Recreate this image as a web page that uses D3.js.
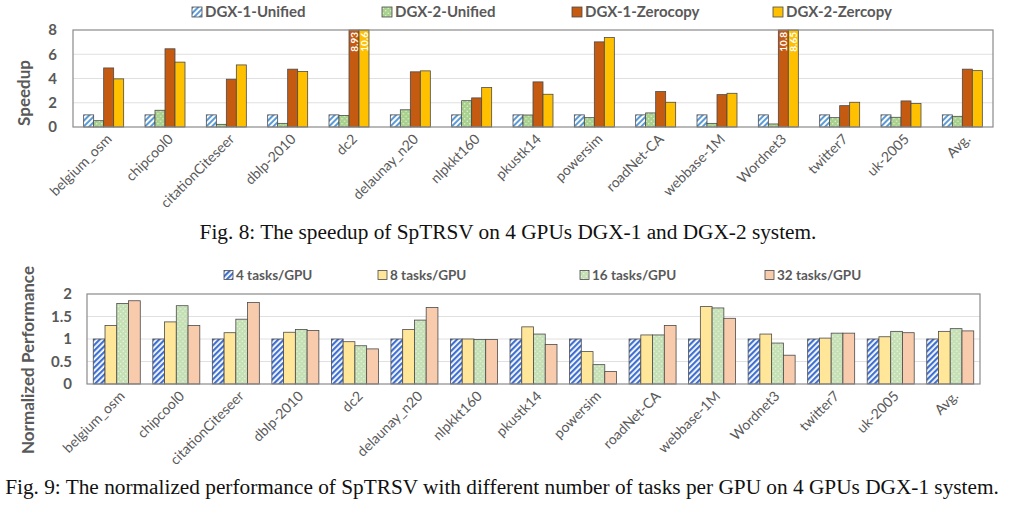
<!DOCTYPE html>
<html>
<head>
<meta charset="utf-8">
<script src="https://cdn.jsdelivr.net/npm/d3@7/dist/d3.min.js"></script>
<style>
  html, body { margin: 0; padding: 0; background: #fff; }
  svg { display: block; }
</style>
</head>
<body>
<svg id="chart" width="1024" height="513"></svg>
<script>
// ---------------- DATA ----------------
const categories = ["belgium_osm", "chipcool0", "citationCiteseer", "dblp-2010", "dc2",
  "delaunay_n20", "nlpkkt160", "pkustk14", "powersim", "roadNet-CA", "webbase-1M",
  "Wordnet3", "twitter7", "uk-2005", "Avg."];

// Fig. 8 (speedup)
const speedupSeries = ["DGX-1-Unified", "DGX-2-Unified", "DGX-1-Zerocopy", "DGX-2-Zercopy"];
const dgx1Unified  = [1, 1, 1, 1, 1, 1, 1, 1, 1, 1, 1, 1, 1, 1, 1];
const dgx2Unified  = [0.52, 1.38, 0.22, 0.3, 0.95, 1.42, 2.17, 0.99, 0.77, 1.16, 0.3, 0.25, 0.77, 0.8, 0.88];
const dgx1Zerocopy = [4.87, 6.45, 3.94, 4.77, 8.93, 4.55, 2.4, 3.72, 7.02, 2.92, 2.67, 10.8, 1.76, 2.15, 4.77];
const dgx2Zercopy  = [3.97, 5.35, 5.12, 4.57, 10.6, 4.63, 3.25, 2.7, 7.38, 2.04, 2.78, 8.65, 2.04, 1.93, 4.65];
const speedupTicks = [0, 2, 4, 6, 8];

// Fig. 9 (normalized performance)
const taskSeries = ["4 tasks/GPU", "8 tasks/GPU", "16 tasks/GPU", "32 tasks/GPU"];
const tasks4  = [1, 1, 1, 1, 1, 1, 1, 1, 1, 1, 1, 1, 1, 1, 1];
const tasks8  = [1.30, 1.38, 1.14, 1.15, 0.94, 1.21, 1.0, 1.27, 0.72, 1.09, 1.72, 1.11, 1.02, 1.05, 1.17];
const tasks16 = [1.79, 1.74, 1.44, 1.21, 0.85, 1.42, 0.99, 1.11, 0.43, 1.09, 1.69, 0.91, 1.13, 1.17, 1.23];
const tasks32 = [1.85, 1.30, 1.81, 1.19, 0.78, 1.70, 0.99, 0.88, 0.28, 1.30, 1.46, 0.64, 1.13, 1.14, 1.18];
const perfTicks = [0, 0.5, 1, 1.5, 2];

const caption8 = "Fig. 8: The speedup of SpTRSV on 4 GPUs DGX-1 and DGX-2 system.";
const caption9 = "Fig. 9: The normalized performance of SpTRSV with different number of tasks per GPU on 4 GPUs DGX-1 system.";

// ---------------- DRAW ----------------
const svg = d3.select("#chart");
const FONT = "Lato, 'Open Sans', sans-serif";
const TXT = "#595959";
const defs = svg.append("defs");

function stripePattern(id, color, bg, size, sw) {
  const p = defs.append("pattern").attr("id", id).attr("patternUnits", "userSpaceOnUse")
    .attr("width", size).attr("height", size).attr("patternTransform", "rotate(45)");
  p.append("rect").attr("width", size).attr("height", size).attr("fill", bg);
  p.append("rect").attr("width", sw).attr("height", size).attr("fill", color);
}
function dotPattern(id, color, dot, size, r) {
  const p = defs.append("pattern").attr("id", id).attr("patternUnits", "userSpaceOnUse")
    .attr("width", size).attr("height", size);
  p.append("rect").attr("width", size).attr("height", size).attr("fill", color);
  p.append("circle").attr("cx", size / 4).attr("cy", size / 4).attr("r", r).attr("fill", dot);
  p.append("circle").attr("cx", 3 * size / 4).attr("cy", 3 * size / 4).attr("r", r).attr("fill", dot);
}
stripePattern("topBlue", "#5B9BD5", "#ffffff", 4, 2);
dotPattern("topGreen", "#A9D18E", "#E8F3DF", 5, 0.7);
stripePattern("botBlue", "#3F6FD0", "#ffffff", 4, 2.2);
dotPattern("botGreen", "#C5E0B4", "#F1F8EC", 5, 0.7);

function drawChart(cfg) {
  const g = svg.append("g");
  const x0 = d3.scaleBand().domain(categories).range([cfg.left, cfg.right]);
  const bw = x0.bandwidth();
  const x1 = d3.scaleBand().domain(cfg.series)
    .range([(bw - cfg.groupW) / 2, (bw + cfg.groupW) / 2]);
  const y = d3.scaleLinear().domain(cfg.domain).range([cfg.bottom, cfg.top]).clamp(true);

  // gridlines
  g.append("g").selectAll("line").data(cfg.ticks.slice(1, -1)).join("line")
    .attr("x1", cfg.left).attr("x2", cfg.right)
    .attr("y1", d => y(d)).attr("y2", d => y(d))
    .attr("stroke", "#e0e0e0").attr("stroke-width", 1);

  // y axis labels
  const yAxis = d3.axisLeft(y).tickValues(cfg.ticks).tickSize(0).tickPadding(cfg.tickPad)
    .tickFormat(d3.format("~g"));
  const ya = g.append("g").attr("transform", `translate(${cfg.left},0)`).call(yAxis);
  ya.select(".domain").remove();
  ya.selectAll("text").attr("font-family", FONT).attr("font-weight", "bold")
    .attr("font-size", cfg.tickSize).attr("fill", TXT);

  // bars
  const groups = g.append("g").selectAll("g").data(categories).join("g")
    .attr("transform", d => `translate(${x0(d)},0)`);
  groups.selectAll("rect").data((d, i) => cfg.series.map((s, k) => ({ s, k, v: cfg.values[k][i] })))
    .join("rect")
    .attr("x", d => x1(d.s)).attr("width", x1.bandwidth())
    .attr("y", d => y(d.v)).attr("height", d => y(0) - y(d.v))
    .attr("fill", d => cfg.fills[d.k]).attr("stroke", "#4a4a4a").attr("stroke-width", 0.8);

  // labels for clipped bars
  groups.selectAll("text.over").data((d, i) => cfg.series.map((s, k) => ({ s, k, v: cfg.values[k][i] }))
      .filter(d => d.v > cfg.domain[1]))
    .join("text").attr("class", "over")
    .attr("transform", d => `translate(${x1(d.s) + x1.bandwidth() / 2},${y(cfg.domain[1]) + 2}) rotate(-90)`)
    .attr("text-anchor", "end").attr("dy", "0.36em")
    .attr("font-family", FONT).attr("font-weight", "bold").attr("font-size", 10)
    .attr("fill", "#ffffff").text(d => String(d.v));

  // frame
  g.append("rect").attr("x", cfg.left).attr("y", cfg.top)
    .attr("width", cfg.right - cfg.left).attr("height", cfg.bottom - cfg.top)
    .attr("fill", "none").attr("stroke", "#8a8a8a").attr("stroke-width", 1.2);

  // x labels
  const xAxis = d3.axisBottom(x0).tickSize(0).tickPadding(0);
  const xa = g.append("g").attr("transform", `translate(0,${cfg.bottom})`).call(xAxis);
  xa.select(".domain").remove();
  xa.selectAll("text")
    .attr("transform", `translate(6,${cfg.labelOff}) rotate(-45)`)
    .attr("text-anchor", "end").attr("dy", "0.3em").attr("y", 0)
    .attr("font-family", FONT).attr("font-size", cfg.labelSize).attr("fill", TXT);

  // y title
  g.append("text").attr("transform", `translate(${cfg.titleX},${cfg.titleY}) rotate(-90)`)
    .attr("text-anchor", "middle").attr("dy", "0.35em")
    .attr("font-family", FONT).attr("font-weight", "bold").attr("font-size", cfg.titleSize)
    .attr("fill", TXT).text(cfg.title);

  // legend
  const lg = g.append("g").selectAll("g").data(cfg.series).join("g")
    .attr("transform", (d, i) => `translate(${cfg.legendX[i]},${cfg.legendY})`);
  lg.append("rect").attr("x", 0).attr("y", -cfg.sw / 2).attr("width", cfg.sw).attr("height", cfg.sw)
    .attr("fill", (d, i) => cfg.fills[i]).attr("stroke", "#4a4a4a").attr("stroke-width", 0.8);
  lg.append("text").attr("x", cfg.sw + 3).attr("dy", "0.36em")
    .attr("font-family", FONT).attr("font-weight", "bold").attr("font-size", cfg.legendSize)
    .attr("fill", TXT).text(d => d);
}

drawChart({
  series: speedupSeries,
  values: [dgx1Unified, dgx2Unified, dgx1Zerocopy, dgx2Zercopy],
  fills: ["url(#topBlue)", "url(#topGreen)", "#C55A11", "#FFC000"],
  left: 73, right: 993, top: 30, bottom: 127, groupW: 40,
  domain: [0, 8], ticks: speedupTicks, tickPad: 16, tickSize: 15,
  labelOff: 10, labelSize: 14,
  title: "Speedup", titleX: 24, titleY: 93, titleSize: 17,
  legendX: [192, 382, 572, 773], legendY: 12, sw: 10, legendSize: 15
});

drawChart({
  series: taskSeries,
  values: [tasks4, tasks8, tasks16, tasks32],
  fills: ["url(#botBlue)", "#FFE699", "url(#botGreen)", "#F8CBAD"],
  left: 87, right: 980, top: 294, bottom: 384, groupW: 47,
  domain: [0, 2], ticks: perfTicks, tickPad: 15, tickSize: 15,
  labelOff: 10, labelSize: 14,
  title: "Normalized Performance", titleX: 28, titleY: 360, titleSize: 17,
  legendX: [224, 378, 580, 765], legendY: 275, sw: 9, legendSize: 13.5
});

// captions
svg.append("text").attr("x", 508).attr("y", 239).attr("text-anchor", "middle")
  .attr("font-family", "'Liberation Serif', 'Times New Roman', serif").attr("font-size", 21.3)
  .attr("fill", "#111").text(caption8);
svg.append("text").attr("x", 502).attr("y", 494).attr("text-anchor", "middle")
  .attr("font-family", "'Liberation Serif', 'Times New Roman', serif").attr("font-size", 21.3)
  .attr("fill", "#111").text(caption9);
</script>
</body>
</html>
